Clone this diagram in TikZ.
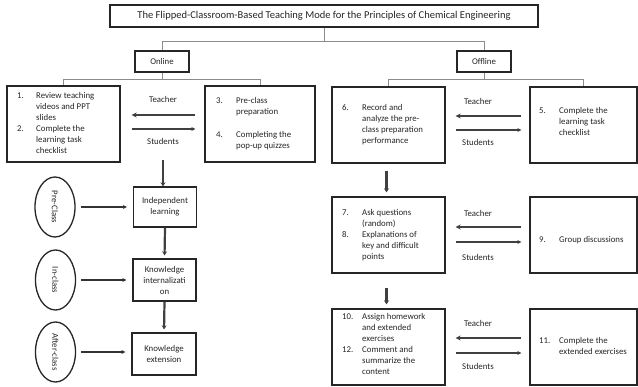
\documentclass[tikz,border=0pt]{standalone}
\usepackage{fontspec}
\setmainfont{Carlito}
\usetikzlibrary{arrows.meta,shapes.geometric,calc}
\begin{document}
\begin{tikzpicture}[x=1pt,y=-1pt,
  every node/.style={font=\fontsize{8.8}{11}\selectfont, text=black!85},
  box/.style={draw=black!85, line width=1.3pt, rectangle, inner sep=0pt},
  tree/.style={draw=black!45, line width=0.8pt},
  larrow/.style={draw=black!75, line width=2pt, -{Stealth[length=5pt,width=5pt]}},
  rarrow/.style={draw=black!75, line width=1.3pt, -{Stealth[length=4pt,width=4pt]}},
  varrow/.style={draw=black!75, line width=2.2pt, -{Stealth[length=4pt,width=5pt]}},
  earrow/.style={draw=black!80, line width=1.3pt, -{Stealth[length=4pt,width=4pt]}},
  phase/.style={draw=black!85, line width=1.3pt, ellipse, minimum width=40, minimum height=60, inner sep=0pt},
  lbl/.style={inner sep=0pt}
]
\useasboundingbox (0,0) rectangle (638,387);
\fill[white] (0,0) rectangle (638,387);

% title
\node[box, minimum width=428, minimum height=22, font=\fontsize{10.5}{12}\selectfont] (title) at (324,16)
  {The Flipped-Classroom-Based Teaching Mode for the Principles of Chemical Engineering};

\node[box, minimum width=54, minimum height=21] (online) at (162,61.5) {Online};
\node[box, minimum width=54, minimum height=21] (offline) at (484,61.5) {Offline};

\draw[tree] (title.south) -- ++(0,14) coordinate (tb);
\draw[tree] (tb) -| (online.north);
\draw[tree] (tb) -| (offline.north);

% online boxes
\node[box, minimum width=113, minimum height=76] (b1) at (63.5,124) {};
\node[lbl, anchor=north west, align=left] (t1) at (17,91) {%
  \begin{tabular}{@{}p{19pt}@{}l@{}}1. & Review teaching\\ & videos and PPT\\ & slides\\ 2. & Complete the\\ & learning task\\ & checklist\end{tabular}};
\node[box, minimum width=110, minimum height=76] (b3) at (260,124) {};
\node[lbl, anchor=north west, align=left] (t3) at (216,96) {%
  \begin{tabular}{@{}p{20pt}@{}l@{}}3. & Pre-class\\ & preparation\\[12pt] 4. & Completing the\\ & pop-up quizzes\end{tabular}};

\draw[tree] (online.south) -- ++(0,7) coordinate (ob);
\draw[tree] (ob) -| (b1.north);
\draw[tree] (ob) -| (b3.north);

\draw[larrow] ([shift={(-9,-9)}]b3.west) -- ([shift={(11,-9)}]b1.east);
\draw[rarrow] ([shift={(11,5)}]b1.east) -- ([shift={(-9,5)}]b3.west);
\node[lbl] (tea1) at (163,99) {Teacher};
\node[lbl] (stu1) at (163,141) {Students};

% phases
\node[box, minimum width=63, minimum height=40, align=center] (ind) at (165,207) {Independent\\learning};
\node[box, minimum width=63, minimum height=42, align=center] (int) at (164.5,280) {Knowledge\\internalizati\\on};
\node[box, minimum width=64, minimum height=42, align=center] (ext) at (164,354) {Knowledge\\extension};

\coordinate (os) at (163,160);
\draw[varrow] (os) -- (os |- ind.north);
\draw[varrow, shorten >=3pt] (ind.south) -- (int.north);
\draw[varrow, shorten >=3pt] (int.south) -- (ext.north);

\node[phase] (pre) at (55,207) {};
\node[lbl, rotate=-90] (pret) at (55,207) {Pre-Class};
\node[phase] (inc) at (55.5,280) {};
\node[lbl, rotate=-90] (inct) at (55.5,280) {In-class};
\node[phase] (aft) at (55.5,352) {};
\node[lbl, rotate=-90] (aftt) at (55.5,352) {After-class};

\draw[earrow, shorten <=5pt, shorten >=6pt] (pre.east) -- (pre.east -| ind.west);
\draw[earrow, shorten <=5pt, shorten >=6pt] (inc.east) -- (inc.east -| int.west);
\draw[earrow, shorten <=5pt, shorten >=6pt] (aft.east) -- (aft.east -| ext.west);

% offline boxes
\node[box, minimum width=113, minimum height=76] (b6) at (388.5,125) {};
\node[lbl, anchor=north west, align=left] (t6) at (342,103) {%
  \begin{tabular}{@{}p{20pt}@{}l@{}}6. & Record and\\ & analyze the pre-\\ & class preparation\\ & performance\end{tabular}};
\node[box, minimum width=107, minimum height=76] (b5) at (583.5,125) {};
\node[lbl, anchor=north west, align=left] (t5) at (539,106) {%
  \begin{tabular}{@{}p{20pt}@{}l@{}}5. & Complete the\\ & learning task\\ & checklist\end{tabular}};

\draw[tree] (offline.south) -- ++(0,7) coordinate (fb);
\draw[tree] (fb) -| (b6.north);
\draw[tree] (fb) -| (b5.north);

\draw[larrow] ([shift={(-8,-9)}]b5.west) -- ([shift={(10,-9)}]b6.east);
\draw[rarrow] ([shift={(10,5)}]b6.east) -- ([shift={(-8,5)}]b5.west);
\node[lbl] (tea2) at (478,101) {Teacher};
\node[lbl] (stu2) at (478,142) {Students};

\node[box, minimum width=113, minimum height=76] (b7) at (388.5,235) {};
\node[lbl, anchor=north west, align=left] (t7) at (342,208) {%
  \begin{tabular}{@{}p{20pt}@{}l@{}}7. & Ask questions\\ & (random)\\ 8. & Explanations of\\ & key and difficult\\ & points\end{tabular}};
\node[box, minimum width=107, minimum height=76] (b9) at (583.5,235) {};
\node[lbl, anchor=west, align=left] (t9) at (539,240) {%
  \begin{tabular}{@{}p{20pt}@{}l@{}}9. & Group discussions\end{tabular}};

\draw[varrow] ([shift={(-2,7)}]b6.south) -- ([shift={(-2,-4)}]b7.north);

\draw[larrow] ([shift={(-8,-8)}]b9.west) -- ([shift={(10,-8)}]b7.east);
\draw[rarrow] ([shift={(10,7)}]b7.east) -- ([shift={(-8,7)}]b9.west);
\node[lbl] (tea3) at (478,213) {Teacher};
\node[lbl] (stu3) at (478,257) {Students};

\node[box, minimum width=113, minimum height=76] (b10) at (388.5,347) {};
\node[lbl, anchor=north west, align=left] (t10) at (342,312) {%
  \begin{tabular}{@{}p{20pt}@{}l@{}}10. & Assign homework\\ & and extended\\ & exercises\\ 12. & Comment and\\ & summarize the\\ & content\end{tabular}};
\node[box, minimum width=107, minimum height=76] (b11) at (583.5,347) {};
\node[lbl, anchor=west, align=left] (t11) at (539,347) {%
  \begin{tabular}{@{}p{20pt}@{}l@{}}11. & Complete the\\ & extended exercises\end{tabular}};

\draw[varrow] ([shift={(-2,14)}]b7.south) -- ([shift={(-2,-4)}]b10.north);

\draw[larrow] ([shift={(-8,-9)}]b11.west) -- ([shift={(10,-9)}]b10.east);
\draw[rarrow] ([shift={(10,6)}]b10.east) -- ([shift={(-8,6)}]b11.west);
\node[lbl] (tea4) at (478,323) {Teacher};
\node[lbl] (stu4) at (478,366) {Students};
\end{tikzpicture}
\end{document}
